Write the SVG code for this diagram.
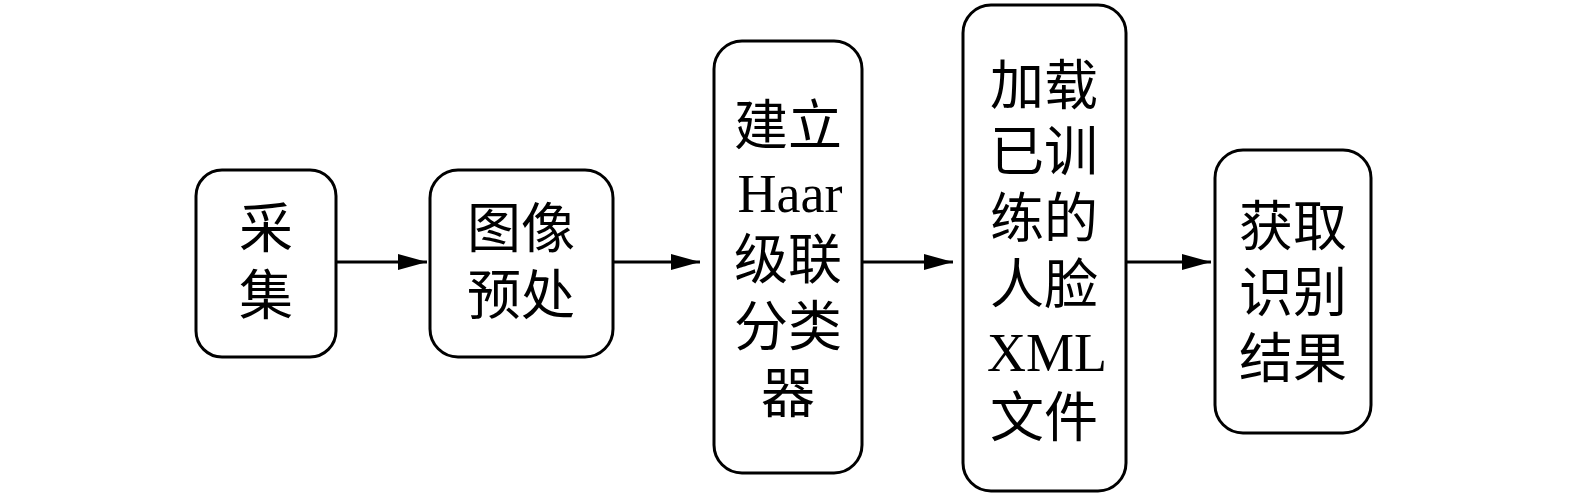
<svg xmlns="http://www.w3.org/2000/svg" width="1575" height="499" viewBox="0 0 1575 499">
<style>
.box{fill:#fff;stroke:#000;stroke-width:3}
.t{font-family:"Liberation Serif","Noto Sans CJK SC",serif;font-size:54px;fill:#000;text-anchor:middle}
.c{stroke:#000;stroke-width:2.8;fill:none}
</style>
<defs>
<marker id="ah" markerUnits="userSpaceOnUse" markerWidth="30" markerHeight="18" refX="29" refY="8" orient="auto">
<path d="M0,0 L29,8 L0,16 Z" fill="#000"/>
</marker>
</defs>
<rect width="1575" height="499" fill="#fff"/>
<g id="connectors">
<line class="c" x1="336" y1="262" x2="427" y2="262" marker-end="url(#ah)"/>
<line class="c" x1="613" y1="262" x2="700" y2="262" marker-end="url(#ah)"/>
<line class="c" x1="862" y1="262" x2="953" y2="262" marker-end="url(#ah)"/>
<line class="c" x1="1126" y1="262" x2="1211" y2="262" marker-end="url(#ah)"/>
</g>
<g id="n1">
<rect class="box" x="196" y="170" width="140" height="187" rx="26"/>
<text class="t" x="266" y="248">采</text>
<text class="t" x="266" y="315">集</text>
</g>
<g id="n2">
<rect class="box" x="430" y="170" width="183" height="187" rx="28"/>
<text class="t" x="521" y="248">图像</text>
<text class="t" x="521" y="315">预处</text>
</g>
<g id="n3">
<rect class="box" x="714" y="41" width="148" height="432" rx="28"/>
<text class="t" x="788" y="145">建立</text>
<text class="t" x="790" y="212">Haar</text>
<text class="t" x="788" y="279">级联</text>
<text class="t" x="788" y="346">分类</text>
<text class="t" x="788" y="413">器</text>
</g>
<g id="n4">
<rect class="box" x="963" y="5" width="163" height="486" rx="28"/>
<text class="t" x="1044" y="105">加载</text>
<text class="t" x="1044" y="171">已训</text>
<text class="t" x="1044" y="238">练的</text>
<text class="t" x="1044" y="304">人脸</text>
<text class="t" x="1047" y="371">XML</text>
<text class="t" x="1044" y="437">文件</text>
</g>
<g id="n5">
<rect class="box" x="1215" y="150" width="156" height="283" rx="28"/>
<text class="t" x="1293" y="246">获取</text>
<text class="t" x="1293" y="312">识别</text>
<text class="t" x="1293" y="378">结果</text>
</g>
</svg>
